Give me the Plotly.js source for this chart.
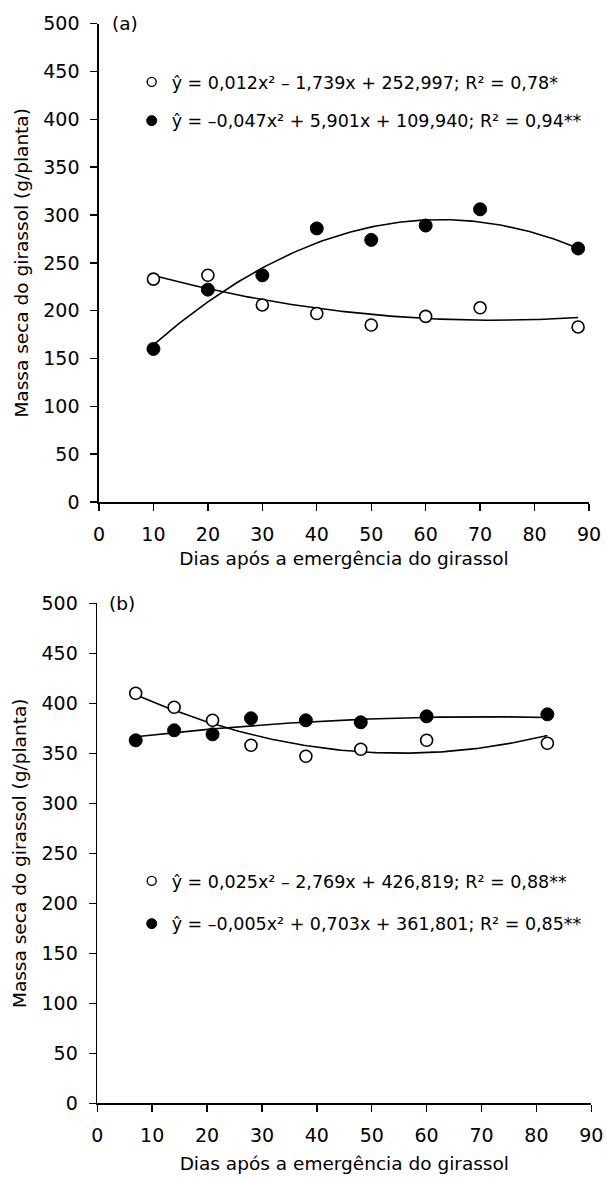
<!DOCTYPE html>
<html>
<head>
<meta charset="utf-8">
<script src="https://cdn.plot.ly/plotly-3.0.1.min.js"></script>
<style>html,body{margin:0;padding:0;background:#fff;}#chart{width:607px;height:1181px;}</style>
</head>
<body>
<div id="chart"></div>
<script>
// ---- data ----
const diasA = [10, 20, 30, 40, 50, 60, 70, 88];
const abertoA = [233, 237, 206, 197, 185, 194, 203, 183];
const cheioA = [160, 222, 237, 286, 274, 289, 306, 265];

const diasB = [7, 14, 21, 28, 38, 48, 60, 82];
const abertoB = [410, 396, 383, 358, 347, 354, 363, 360];
const cheioB = [363, 373, 369, 385, 383, 381, 387, 389];

// regression coefficients printed on the chart: [a, b, c] for a*x^2 + b*x + c
const coefAbertoA = [0.012, -1.739, 252.997];
const coefCheioA = [-0.047, 5.901, 109.940];
const coefAbertoB = [0.025, -2.769, 426.819];
const coefCheioB = [-0.005, 0.703, 361.801];

const eqAbertoA = "ŷ = 0,012x² – 1,739x + 252,997; R² = 0,78*";
const eqCheioA = "ŷ = –0,047x² + 5,901x + 109,940; R² = 0,94**";
const eqAbertoB = "ŷ = 0,025x² – 2,769x + 426,819; R² = 0,88**";
const eqCheioB = "ŷ = –0,005x² + 0,703x + 361,801; R² = 0,85**";

const xTitle = "Dias após a emergência do girassol";
const yTitle = "Massa seca do girassol (g/planta)";
const panelLabels = ["(a)", "(b)"];

// ---- helpers ----
function curve(coef, xs) {
  const x0 = xs[0], x1 = xs[xs.length - 1];
  const n = 120, cx = [], cy = [];
  for (let i = 0; i <= n; i++) {
    const x = x0 + (x1 - x0) * i / n;
    cx.push(x);
    cy.push(coef[0] * x * x + coef[1] * x + coef[2]);
  }
  return {x: cx, y: cy};
}

const FONT = "DejaVu Sans, sans-serif";
const W = 607, H = 1181;
const lineStyle = {color: "#000", width: 1.6};
const openMarker = {symbol: "circle", size: 12, color: "#fff", line: {color: "#000", width: 1.6}};
const fullMarker = {symbol: "circle", size: 13, color: "#000", line: {color: "#000", width: 1}};
const openKey = {symbol: "circle", size: 9, color: "#fff", line: {color: "#000", width: 1.4}};
const fullKey = {symbol: "circle", size: 10, color: "#000", line: {color: "#000", width: 1}};

function fitTrace(coef, xs, xa, ya) {
  const c = curve(coef, xs);
  return {x: c.x, y: c.y, xaxis: xa, yaxis: ya, mode: "lines", line: lineStyle,
          showlegend: false, hoverinfo: "skip"};
}
function ptTrace(xs, ys, marker, xa, ya) {
  return {x: xs, y: ys, xaxis: xa, yaxis: ya, mode: "markers", marker: marker,
          showlegend: false, cliponaxis: false};
}
// legend-only key (no data points of its own)
function keyTrace(marker, name, xa, ya, legend, group) {
  return {x: [null], y: [null], xaxis: xa, yaxis: ya, mode: "markers", marker: marker,
          name: name, legend: legend, legendgroup: group, showlegend: true};
}

const traces = [
  fitTrace(coefAbertoA, diasA, "x", "y"),
  fitTrace(coefCheioA, diasA, "x", "y"),
  ptTrace(diasA, abertoA, openMarker, "x", "y"),
  ptTrace(diasA, cheioA, fullMarker, "x", "y"),
  keyTrace(openKey, eqAbertoA, "x", "y", "legend", "a1"),
  keyTrace(fullKey, eqCheioA, "x", "y", "legend", "a2"),
  fitTrace(coefAbertoB, diasB, "x2", "y2"),
  fitTrace(coefCheioB, diasB, "x2", "y2"),
  ptTrace(diasB, abertoB, openMarker, "x2", "y2"),
  ptTrace(diasB, cheioB, fullMarker, "x2", "y2"),
  keyTrace(openKey, eqAbertoB, "x2", "y2", "legend2", "b1"),
  keyTrace(fullKey, eqCheioB, "x2", "y2", "legend2", "b2")
];

function xAxis(domain, anchor, standoff) {
  return {
    domain: domain, anchor: anchor, range: [0, 90], dtick: 10, tick0: 0,
    ticks: "outside", ticklen: 7, tickwidth: 1.4, tickcolor: "#000",
    showline: true, linecolor: "#000", linewidth: 1.7,
    showgrid: false, zeroline: false, automargin: false,
    tickfont: {family: FONT, size: 19, color: "#000"},
    ticklabelstandoff: 7,
    title: {text: xTitle, font: {family: FONT, size: 18.5, color: "#000"}, standoff: standoff},
    fixedrange: true
  };
}
function yAxis(domain, anchor) {
  return {
    domain: domain, anchor: anchor, range: [0, 500], dtick: 50, tick0: 0,
    ticks: "outside", ticklen: 7, tickwidth: 1.4, tickcolor: "#000",
    showline: true, linecolor: "#000", linewidth: 1.7,
    showgrid: false, zeroline: false, automargin: false,
    tickfont: {family: FONT, size: 19, color: "#000"},
    ticklabelstandoff: 7,
    title: {text: yTitle, font: {family: FONT, size: 18.5, color: "#000"}, standoff: 10},
    fixedrange: true
  };
}

const legendBase = {
  xanchor: "left", yanchor: "top", bgcolor: "rgba(0,0,0,0)", borderwidth: 0,
  font: {family: FONT, size: 17.5, color: "#000"}, traceorder: "grouped",
  itemsizing: "trace", itemclick: false, itemdoubleclick: false
};

const layout = {
  width: W, height: H,
  margin: {l: 0, r: 0, t: 0, b: 0},
  paper_bgcolor: "#fff", plot_bgcolor: "#fff",
  font: {family: FONT, size: 18, color: "#000"},
  showlegend: true,
  xaxis: xAxis([99 / W, 589 / W], "y", 8),
  yaxis: yAxis([1 - 502 / H, 1 - 23.7 / H], "x"),
  xaxis2: xAxis([97.3 / W, 591.3 / W], "y2", 12),
  yaxis2: yAxis([1 - 1103.3 / H, 1 - 603.3 / H], "x2"),
  legend: Object.assign({}, legendBase, {x: 131.7 / W, y: 1 - 64 / H, tracegroupgap: 13}),
  legend2: Object.assign({}, legendBase, {x: 131.7 / W, y: 1 - 863 / H, tracegroupgap: 17}),
  annotations: [
    {text: panelLabels[0], xref: "paper", yref: "y", x: 110 / W, y: 500, xanchor: "left", yanchor: "middle",
     showarrow: false, font: {family: FONT, size: 18.5, color: "#000"}},
    {text: panelLabels[1], xref: "paper", yref: "y2", x: 107 / W, y: 500, xanchor: "left", yanchor: "middle",
     showarrow: false, font: {family: FONT, size: 18.5, color: "#000"}}
  ]
};

Plotly.newPlot("chart", traces, layout, {staticPlot: true, displayModeBar: false});
</script>
</body>
</html>
